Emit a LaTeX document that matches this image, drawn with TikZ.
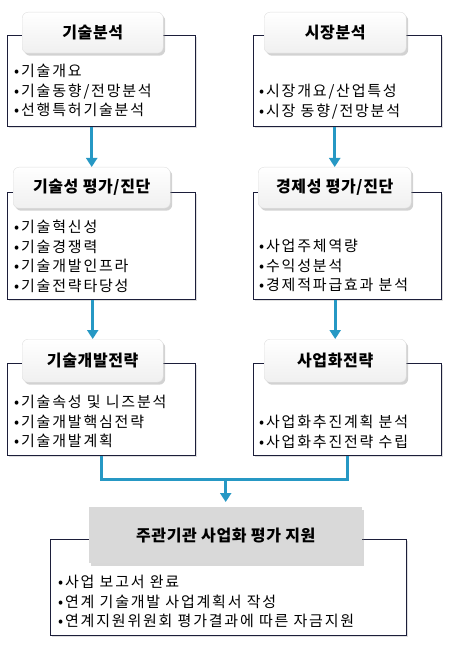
\documentclass[tikz,border=0pt]{standalone}
\usepackage{fontspec}
\newfontfamily\kr[LetterSpace=4]{Noto Sans CJK KR}
\newfontfamily\krwide[LetterSpace=12]{Noto Sans CJK KR}
\usetikzlibrary{arrows.meta,shadows}
\definecolor{flowblue}{RGB}{38,152,196}
\definecolor{frameblue}{RGB}{28,30,58}
\definecolor{capgray}{RGB}{217,217,217}

\begin{document}
\begin{tikzpicture}[x=1bp, y=-1bp,
    panel/.style={draw=frameblue, line width=1bp, fill=white, rectangle, anchor=north west, inner sep=0pt,
        drop shadow={shadow xshift=1.5bp, shadow yshift=-1.5bp, opacity=0.25}},
    titlecap/.style={rectangle, rounded corners=6bp, draw=gray!25, top color=white, bottom color=gray!12,
        anchor=north west, inner sep=0pt, font=\kr\bfseries\fontsize{16bp}{18bp}\selectfont,
        drop shadow={shadow xshift=2bp, shadow yshift=-2.5bp, opacity=0.35}},
    graycap/.style={rectangle, fill=capgray, anchor=north west, inner sep=0pt,
        font=\kr\bfseries\fontsize{16bp}{18bp}\selectfont,
        drop shadow={shadow xshift=2bp, shadow yshift=-2.5bp, opacity=0.3}},
    items/.style={anchor=north west, align=left, inner sep=0pt, font=\krwide\fontsize{15bp}{19.5bp}\selectfont},
    link/.style={draw=flowblue, line width=3bp},
    flow/.style={link, -{Triangle[width=11bp,length=9bp]}}]
    \useasboundingbox (0,0) rectangle (452,647);

    % row 1
    \node[panel, minimum width=188bp, minimum height=91bp] (techbox) at (7,35) {};
    \node[titlecap, minimum width=141bp, minimum height=41bp] (techcap) at (22,12) {기술분석};
    \node[items] (techlist) at (14,64) {•기술개요\\•기술동향/전망분석\\•선행특허기술분석};

    \node[panel, minimum width=188bp, minimum height=91bp] (marketbox) at (253,35) {};
    \node[titlecap, minimum width=142bp, minimum height=41bp] (marketcap) at (264,12) {시장분석};
    \node[items] (marketlist) at (259,84) {•시장개요/산업특성\\•시장 동향/전망분석};

    % row 2
    \node[panel, minimum width=188bp, minimum height=107bp] (evalbox) at (7,192) {};
    \node[titlecap, minimum width=157bp, minimum height=41bp] (evalcap) at (13,167) {기술성 평가/진단};
    \node[items] (evallist) at (14,220) {•기술혁신성\\•기술경쟁력\\•기술개발인프라\\•기술전략타당성};

    \node[panel, minimum width=188bp, minimum height=107bp] (econbox) at (253,192) {};
    \node[titlecap, minimum width=153bp, minimum height=41bp] (econcap) at (258,167) {경제성 평가/진단};
    \node[items] (econlist) at (259,239) {•사업주체역량\\•수익성분석\\•경제적파급효과 분석};

    % row 3
    \node[panel, minimum width=188bp, minimum height=92bp] (planbox) at (7,363) {};
    \node[titlecap, minimum width=141bp, minimum height=43bp] (plancap) at (22,339) {기술개발전략};
    \node[items] (planlist) at (14,395) {•기술속성 및 니즈분석\\•기술개발핵심전략\\•기술개발계획};

    \node[panel, minimum width=188bp, minimum height=92bp] (bizbox) at (253,363) {};
    \node[titlecap, minimum width=142bp, minimum height=43bp] (bizcap) at (264,339) {사업화전략};
    \node[items] (bizlist) at (259,415) {•사업화추진계획 분석\\•사업화추진전략 수립};

    % bottom
    \node[panel, minimum width=356bp, minimum height=96bp] (supportbox) at (50,539) {};
    \node[graycap, minimum width=273bp, minimum height=56bp] (supportcap) at (89,507) {주관기관 사업화 평가 지원};
    \node[items] (supportlist) at (58,575) {•사업 보고서 완료\\•연계 기술개발 사업계획서 작성\\•연계지원위원회 평가결과에 따른 자금지원};

    % arrows
    \draw[flow] (evalcap.north |- techbox.south) -- (evalcap.north);
    \draw[flow] (econcap.north |- marketbox.south) -- (econcap.north);
    \draw[flow] (plancap.north |- evalbox.south) -- (plancap.north);
    \draw[flow] (bizcap.north |- econbox.south) -- (bizcap.north);
    \draw[link] (planbox.south) -- ++(0,23) coordinate (bend) -| (bizbox.south);
    \draw[flow, shorten >=5bp] (bend -| supportcap.north) -- (supportcap.north);
\end{tikzpicture}
\end{document}
